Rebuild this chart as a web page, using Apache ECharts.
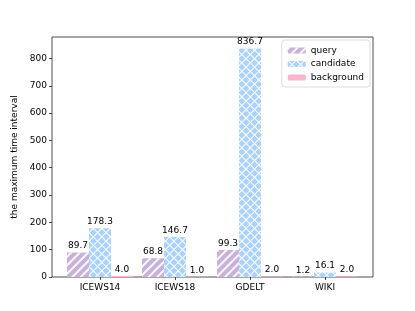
<!DOCTYPE html>
<html><head><meta charset="utf-8">
<script src="https://cdn.jsdelivr.net/npm/echarts@6/dist/echarts.min.js"></script>
<style>html,body{margin:0;padding:0;background:#fff}#c{width:415px;height:311px}</style>
</head><body><div id="c"></div>
<script>
const categories = ['ICEWS14', 'ICEWS18', 'GDELT', 'WIKI'];
const queryVals = [89.7, 68.8, 99.3, 1.2];
const candidateVals = [178.3, 146.7, 836.7, 16.1];
const backgroundVals = [4.0, 1.0, 2.0, 2.0];
const yTicks = [0, 100, 200, 300, 400, 500, 600, 700, 800];

const FONT = 'DejaVu Sans';
const YMAX = 878.5;
const chart = echarts.init(document.getElementById('c'), null, {renderer: 'canvas'});
const lbl = {show: true, position: 'top', distance: 2, color: '#000', fontFamily: FONT, fontSize: 9,
  formatter: p => p.value.toFixed(1)};
chart.setOption({
  animation: false,
  legend: {
    orient: 'vertical', right: 45, top: 40, itemWidth: 18, itemHeight: 6, itemGap: 4.5,
    padding: [6, 6, 5, 6], borderColor: '#ddd', borderWidth: 1, borderRadius: 3,
    textStyle: {fontFamily: FONT, fontSize: 9, color: '#000'},
    data: ['query', 'candidate', 'background']
  },
  grid: [
    {left: 52, top: 37, width: 321, height: 240, show: true, borderColor: '#222', borderWidth: 0.8},
    {left: 62.5, top: 37, width: 300, height: 240}
  ],
  xAxis: [
    {gridIndex: 0, type: 'value', min: 0, max: 1, axisLine: {show: false}, axisTick: {show: false}, axisLabel: {show: false}, splitLine: {show: false}},
    {gridIndex: 1, type: 'category', data: categories, axisLine: {show: false},
      axisTick: {show: true, alignWithLabel: true, length: 3, lineStyle: {color: '#222', width: 0.8}},
      axisLabel: {fontFamily: FONT, fontSize: 9, color: '#000', margin: 6}}
  ],
  yAxis: [
    {gridIndex: 0, type: 'value', min: 0, max: YMAX, interval: 100,
      name: 'the maximum time interval', nameLocation: 'middle', nameGap: 28,
      nameTextStyle: {fontFamily: FONT, fontSize: 9, color: '#000'},
      axisLine: {show: false}, axisTick: {show: true, length: 3, lineStyle: {color: '#222', width: 0.8}},
      axisLabel: {fontFamily: FONT, fontSize: 9, color: '#000', margin: 5, showMaxLabel: false,
        formatter: v => yTicks.includes(v) ? String(v) : ''},
      splitLine: {show: false}},
    {gridIndex: 1, type: 'value', min: 0, max: YMAX, show: false}
  ],
  series: [
    {name: 'query', type: 'bar', xAxisIndex: 1, yAxisIndex: 1, data: queryVals, barWidth: 22, barGap: '0%',
      itemStyle: {color: '#c8b2db', decal: {symbol: 'rect', color: 'rgba(255,255,255,0.9)', dashArrayX: [[1, 0]], dashArrayY: [1.1, 3.2], rotation: -Math.PI / 4}},
      label: lbl},
    {name: 'candidate', type: 'bar', xAxisIndex: 1, yAxisIndex: 1, data: candidateVals, barWidth: 22, barGap: '0%',
      itemStyle: {color: '#ffffff', decal: {symbol: 'rect', color: '#a9d2ff', dashArrayX: [4.2, 1], dashArrayY: [4.2, 1], rotation: Math.PI / 4}},
      label: lbl},
    {name: 'background', type: 'bar', xAxisIndex: 1, yAxisIndex: 1, data: backgroundVals, barWidth: 22, barGap: '0%',
      itemStyle: {color: '#f8b4d0'},
      label: lbl}
  ]
});
</script></body></html>
